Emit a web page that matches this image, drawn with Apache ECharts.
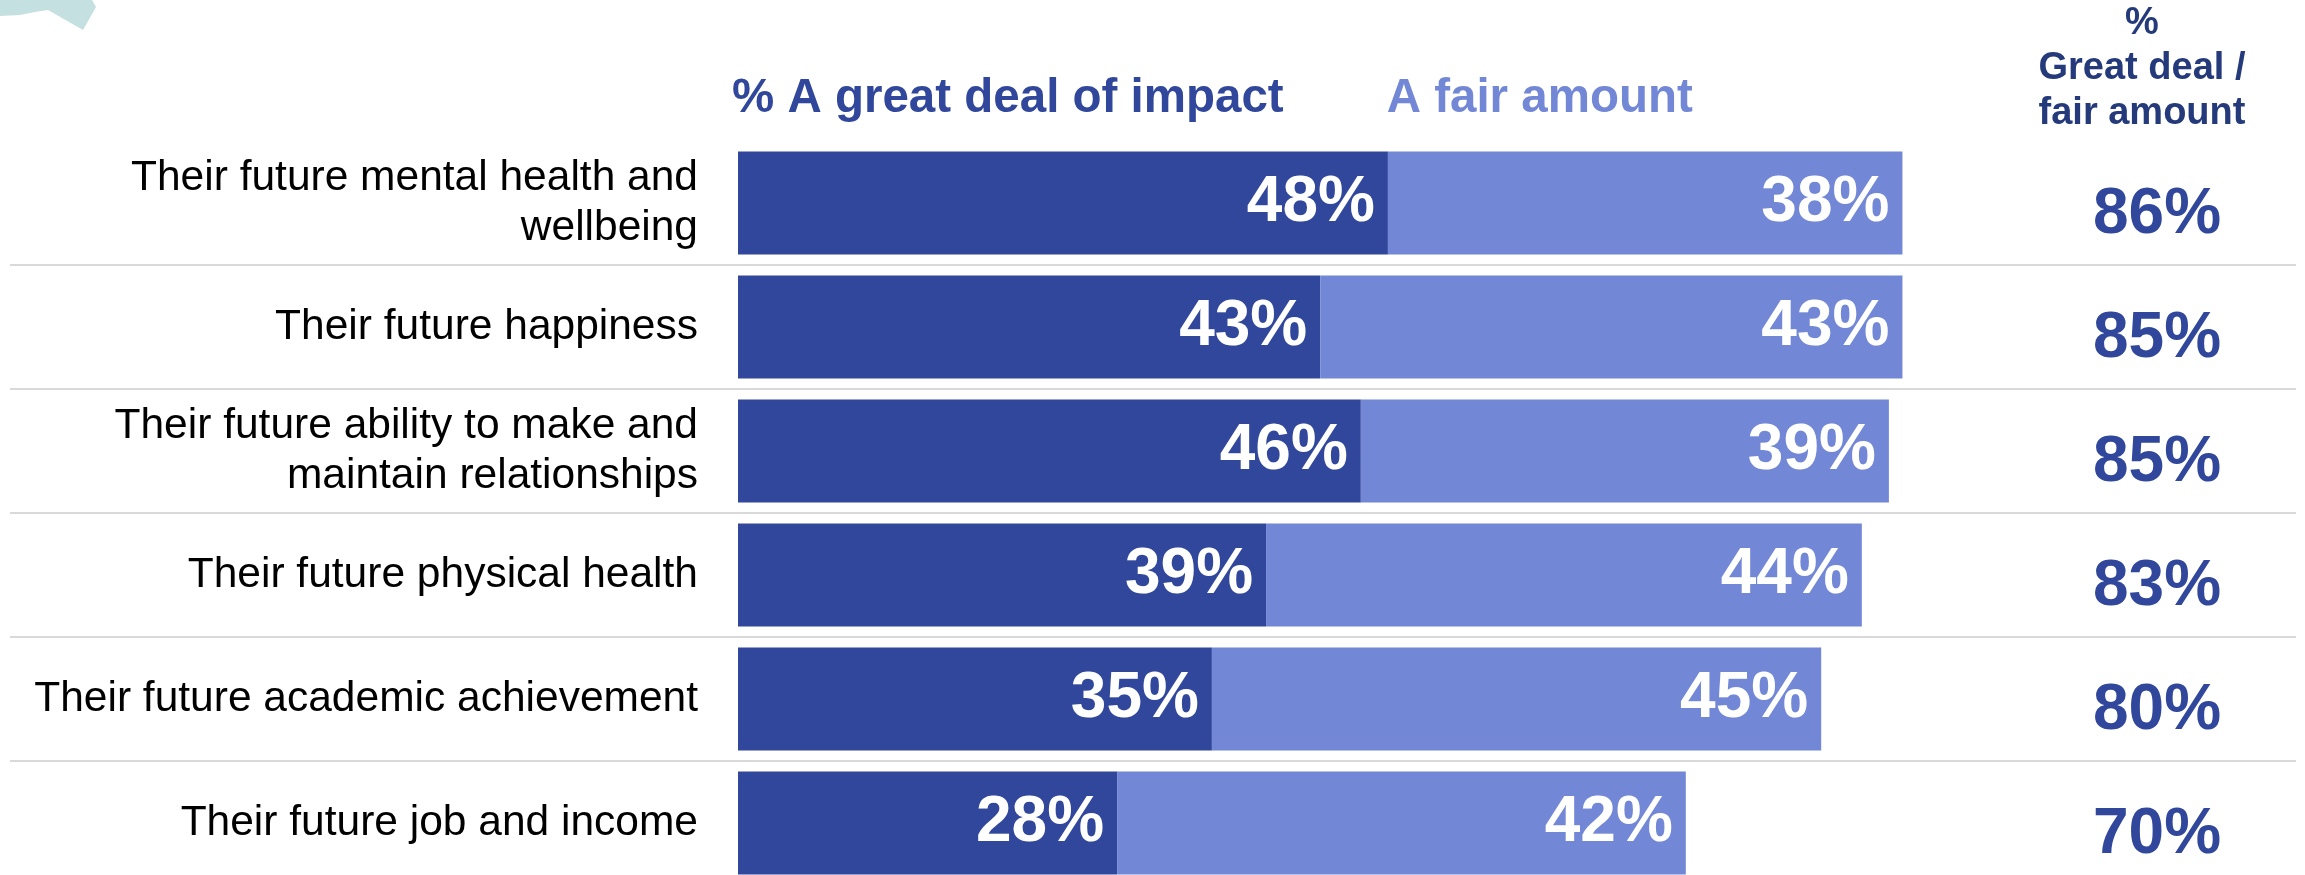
<!DOCTYPE html>
<html>
<head>
<meta charset="utf-8">
<title>Future impact</title>
<script src="https://cdn.jsdelivr.net/npm/echarts@6/dist/echarts.min.js"></script>
<style>
  html, body { margin: 0; padding: 0; background: #fff; }
  #chart { width: 2305px; height: 875px; }
</style>
</head>
<body>
<div id="chart"></div>
<script>
// categories, top to bottom (line breaks as on the slide)
const categories = [
  'Their future mental health and\nwellbeing',
  'Their future happiness',
  'Their future ability to make and\nmaintain relationships',
  'Their future physical health',
  'Their future academic achievement',
  'Their future job and income'
];
const seriesNames = ['% A great deal of impact', 'A fair amount'];
const greatDeal = [48, 43, 46, 39, 35, 28];
const fairAmount = [38, 43, 39, 44, 45, 42];
// net column as printed on the chart
const netTotals = [86, 85, 85, 83, 80, 70];

const DARK = '#30479b';
const LIGHT = '#7287d6';
const FONT = '"Liberation Sans", Arial, sans-serif';

const chart = echarts.init(document.getElementById('chart'));

const barLabel = {
  show: true,
  position: 'insideRight',
  distance: 13,
  formatter: '{c}%',
  color: '#fff',
  fontSize: 64,
  fontWeight: 'bold',
  fontFamily: FONT
};

const option = {
  backgroundColor: '#fff',
  animation: false,
  textStyle: { fontFamily: FONT },
  title: {
    text: '%\nGreat deal /\nfair amount',
    left: 2142,
    top: 1,
    padding: 0,
    textAlign: 'center',
    textStyle: { fontSize: 38, fontWeight: 'bold', color: '#243a7a', lineHeight: 45, fontFamily: FONT }
  },
  legend: {
    data: [
      { name: seriesNames[0], textStyle: { color: DARK } },
      { name: seriesNames[1], textStyle: { color: LIGHT } }
    ],
    left: 727,
    top: 75,
    padding: 0,
    icon: 'rect',
    itemWidth: 0,
    itemHeight: 0,
    itemGap: 98,
    selectedMode: false,
    textStyle: { fontSize: 47.5, fontWeight: 'bold', fontFamily: FONT }
  },
  graphic: [{
    // corner decoration from the slide
    type: 'polygon',
    shape: { points: [[0, 0], [92, 0], [96, 7], [83, 30], [48, 10], [35, 12], [20, 15], [0, 16]] },
    style: { fill: '#c5e0e0' }
  }],
  grid: [
    { left: 738, width: 1354, top: 141, height: 744, outerBoundsMode: 'none' },
    { left: 10, right: 9, top: 141, height: 744, outerBoundsMode: 'none' }
  ],
  xAxis: [
    { type: 'value', gridIndex: 0, min: 0, max: 100, show: false },
    { type: 'value', gridIndex: 1, min: 0, max: 1, show: false }
  ],
  yAxis: [
    {
      type: 'category', gridIndex: 0, data: categories, inverse: true,
      axisLine: { show: false }, axisTick: { show: false }, splitLine: { show: false },
      axisLabel: {
        interval: 0, margin: 40, fontSize: 42.5, color: '#000', fontFamily: FONT,
        lineHeight: 50
      }
    },
    {
      type: 'category', gridIndex: 0, data: netTotals, inverse: true, position: 'right',
      axisLine: { show: false }, axisTick: { show: false }, splitLine: { show: false },
      axisLabel: {
        interval: 0, margin: 65, align: 'center', verticalAlign: 'top', lineHeight: 24,
        fontSize: 64, fontWeight: 'bold', color: DARK, fontFamily: FONT,
        formatter: v => v + '%'
      }
    },
    {
      // row separators across the whole width
      type: 'category', gridIndex: 1, data: categories, inverse: true,
      axisLine: { show: false }, axisTick: { show: false }, axisLabel: { show: false },
      splitLine: {
        show: true,
        interval: (idx) => idx !== 0,
        lineStyle: { color: '#d9d9d9', width: 2 }
      }
    }
  ],
  series: [
    {
      name: seriesNames[0], type: 'bar', stack: 'impact',
      xAxisIndex: 0, yAxisIndex: 0,
      data: greatDeal, barWidth: 103,
      itemStyle: { color: DARK }, label: barLabel
    },
    {
      name: seriesNames[1], type: 'bar', stack: 'impact',
      xAxisIndex: 0, yAxisIndex: 0,
      data: fairAmount, barWidth: 103,
      itemStyle: { color: LIGHT }, label: barLabel
    }
  ]
};

chart.setOption(option);
</script>
</body>
</html>
